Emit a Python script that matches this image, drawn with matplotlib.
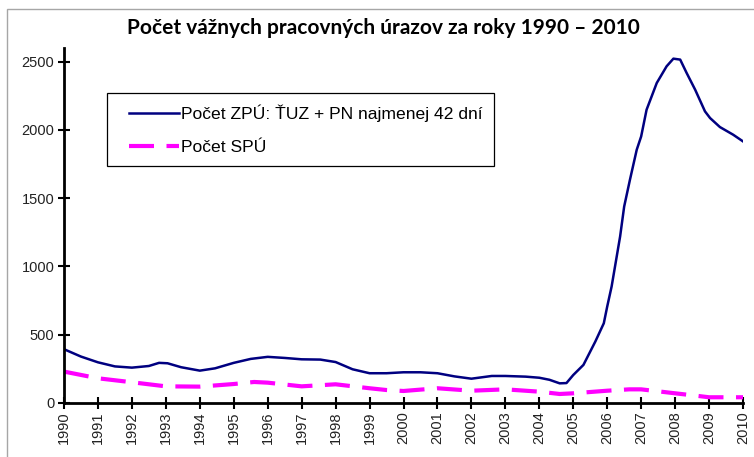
import numpy as np
import matplotlib
matplotlib.use("Agg")
import matplotlib.pyplot as plt
from matplotlib.patches import Rectangle
from matplotlib.legend_handler import HandlerLine2D

# Počet ZPÚ
roky_zpu = [1990, 1990.5, 1991, 1991.5, 1992, 1992.5, 1992.8, 1993.05, 1993.45,
            1994, 1994.45, 1995, 1995.5, 1996, 1996.5, 1997, 1997.55, 1998,
            1998.5, 1999, 1999.5, 2000, 2000.5, 2001, 2001.5, 2002, 2002.6,
            2003, 2003.6, 2004, 2004.3, 2004.6, 2004.8, 2005, 2005.3, 2005.65,
            2005.9, 2006, 2006.13, 2006.38, 2006.5, 2006.67, 2006.87, 2007,
            2007.16, 2007.46, 2007.75, 2007.95, 2008.15, 2008.34, 2008.59,
            2008.88, 2009.03, 2009.32, 2009.71, 2010]
zpu = [394, 340, 298, 268, 259, 271, 294, 291, 262,
       237, 254, 294, 323, 338, 330, 320, 318, 300,
       247, 218, 218, 225, 225, 218, 195, 178, 198,
       198, 193, 185, 170, 144, 146, 205, 279, 450,
       584, 706, 853, 1219, 1439, 1635, 1855, 1952,
       2148, 2344, 2466, 2522, 2515, 2417, 2295,
       2136, 2087, 2021, 1965, 1916]

# Počet SPÚ
roky_spu = [1990, 1991, 1992, 1993, 1994, 1995, 1995.6, 1996, 1997, 1998, 1999,
            1999.5, 2000, 2001, 2002, 2003, 2004, 2004.6, 2005, 2006, 2006.65,
            2007, 2008, 2008.7, 2009, 2009.75, 2010]
spu = [230, 181, 152, 122, 120, 139, 154, 149, 122, 137, 108,
       95, 88, 108, 90, 100, 83, 66, 71, 90, 100,
       100, 71, 51, 42, 42, 42]

tick_roky = list(range(1990, 2011))
y_ticks = [0, 500, 1000, 1500, 2000, 2500]


class OdsadenaCiara(HandlerLine2D):
    # legend line starts a bit further right than the frame padding
    def get_xdata(self, legend, xdescent, ydescent, width, height, fontsize):
        xdata, xm = super().get_xdata(legend, xdescent, ydescent, width,
                                      height, fontsize)
        xdata = np.array(xdata, dtype=float)
        xdata[0] += 8
        return xdata, xm


W, H = 754, 457
fig = plt.figure(figsize=(W / 100, H / 100), dpi=100)
ax = fig.add_axes([64 / W, 1 - 403 / H, 679 / W, 355 / H])

# gray frame around the chart area
fig.patches.append(Rectangle((7 / W, -0.1), 1.1, 1.1 - 9.5 / H,
                             transform=fig.transFigure, fill=False,
                             edgecolor='#a6a6a6', linewidth=1.0))

ax.plot(roky_zpu, zpu, color='#000080', linewidth=1.8,
        label='Počet ZPÚ: ŤUZ + PN najmenej 42 dní', solid_joinstyle='round')
ax.plot(roky_spu, spu, color='#ff00ff', linewidth=3.0, dashes=(6, 3),
        label='Počet SPÚ')

ax.set_xlim(1990, 2010)
ax.set_ylim(0, 2600)
ax.set_xticks(tick_roky)
ax.set_xticklabels([str(r) for r in tick_roky], rotation=90,
                   fontfamily='Liberation Sans', fontsize=10.5)
ax.set_yticks(y_ticks)
ax.set_yticklabels([str(v) for v in y_ticks], fontfamily='Liberation Sans',
                   fontsize=10.5)
ax.tick_params(axis='both', direction='inout', length=8, width=1.5,
               color='black', labelcolor='#222222')
ax.tick_params(axis='x', pad=2)
ax.tick_params(axis='y', pad=3)

for s in ['top', 'right']:
    ax.spines[s].set_visible(False)
for s in ['left', 'bottom']:
    ax.spines[s].set_linewidth(2)
    ax.spines[s].set_color('black')
ax.patch.set_alpha(0)

leg = ax.legend(loc='upper left', bbox_to_anchor=(0.0633, 0.873),
                borderaxespad=0, fancybox=False, edgecolor='black',
                framealpha=1, handlelength=3.45, handletextpad=0.15,
                borderpad=0.65, labelspacing=1.0,
                handler_map={matplotlib.lines.Line2D: OdsadenaCiara()},
                prop={'family': 'Liberation Sans', 'size': 12.6})
leg.get_frame().set_linewidth(0.9)

fig.text(383 / W, 1 - 28 / H, 'Počet vážnych pracovných úrazov za roky 1990 – 2010',
         ha='center', va='center', fontfamily='Lato', fontweight='bold',
         fontsize=15, color='black')

fig.savefig('out.png', dpi=100)
